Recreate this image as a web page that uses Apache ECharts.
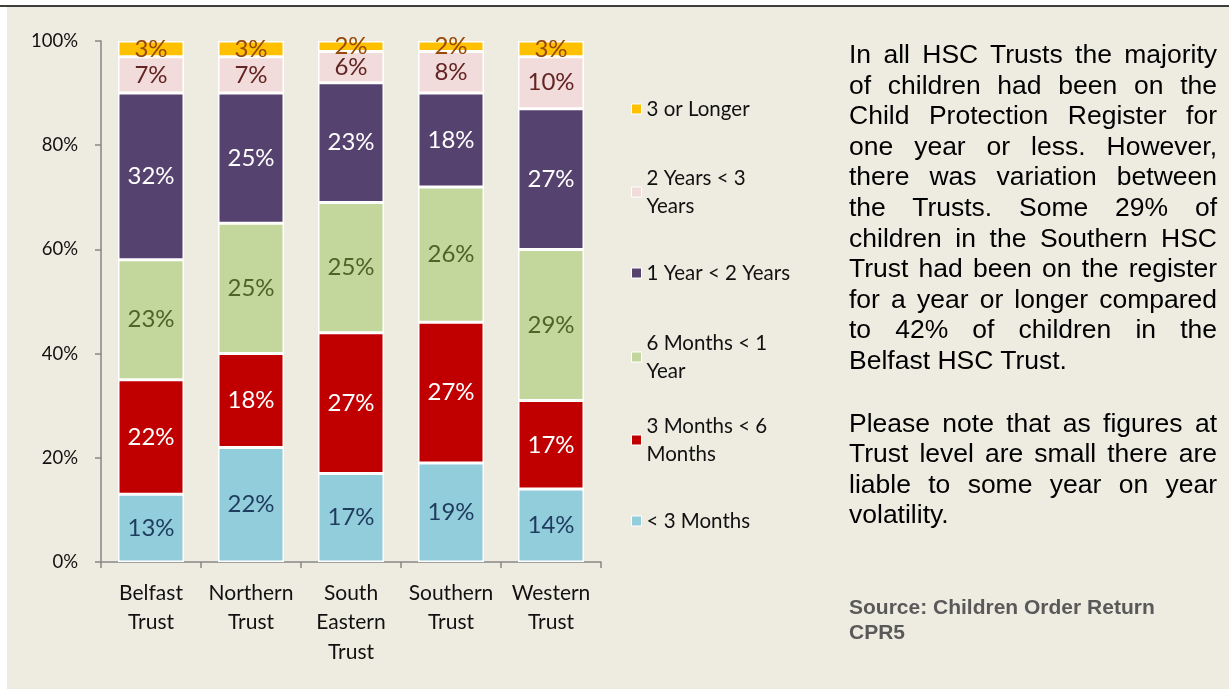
<!DOCTYPE html>
<html>
<head>
<meta charset="utf-8">
<script src="https://cdn.jsdelivr.net/npm/echarts@6/dist/echarts.min.js"></script>
<style>
  html, body { margin: 0; padding: 0; background: #fff; }
  #wrap { position: relative; width: 1229px; height: 689px; }
  #chart { width: 1229px; height: 689px; }
  .note {
    position: absolute; left: 849px; top: 39px; width: 368px;
    font-family: "Liberation Sans", Arial, sans-serif; font-size: 26.5px;
    line-height: 30.6px; color: #000; text-align: justify; pointer-events: none;
  }
  .note p { margin: 0 0 32px 0; }
  .source {
    position: absolute; left: 849px; top: 595px; width: 370px;
    font-family: "Liberation Sans", Arial, sans-serif; font-size: 21px; font-weight: bold;
    line-height: 24.5px; color: #595959; pointer-events: none;
  }
</style>
</head>
<body>
<div id="wrap">
  <div id="chart"></div>
  <div class="note">
    <p>In all HSC Trusts the majority of children had been on the Child Protection Register for one year or less. However, there was variation between the Trusts. Some 29% of children in the Southern HSC Trust had been on the register for a year or longer compared to 42% of children in the Belfast HSC Trust.</p>
    <p>Please note that as figures at Trust level are small there are liable to some year on year volatility.</p>
  </div>
  <div class="source">Source: Children Order Return<br>CPR5</div>
</div>
<script>
const trusts = ["Belfast\nTrust", "Northern\nTrust", "South\nEastern\nTrust", "Southern\nTrust", "Western\nTrust"];
const yTicks = [0, 20, 40, 60, 80, 100];

const under3Months = [13, 22, 17, 19, 14];
const months3to6 = [22, 18, 27, 27, 17];
const months6to1Year = [23, 25, 25, 26, 29];
const year1to2 = [32, 25, 23, 18, 27];
const years2to3 = [7, 7, 6, 8, 10];
const years3Plus = [3, 3, 2, 2, 3];

const seriesNames = ["< 3 Months", "3 Months < 6 Months", "6 Months < 1 Year", "1 Year < 2 Years", "2 Years < 3 Years", "3 or Longer"];
const legendLabels = ["< 3 Months", "3 Months < 6\nMonths", "6 Months < 1\nYear", "1 Year < 2 Years", "2 Years < 3\nYears", "3 or Longer"];

const colors = ["#92cddc", "#c00000", "#c3d69b", "#55426f", "#f2dcdb", "#ffc000"];
const labelColors = ["#1f3b5e", "#ffffff", "#4f6228", "#ffffff", "#632523", "#984807"];
const values = [under3Months, months3to6, months6to1Year, year1to2, years2to3, years3Plus];

const FONT = "Lato, 'Open Sans', sans-serif";
const chart = echarts.init(document.getElementById("chart"));

// legend centres (icon y)
const legendCentres = [521, 440, 357, 273, 192, 109];

const legends = seriesNames.map((name, i) => {
  const twoLines = legendLabels[i].indexOf("\n") >= 0;
  const h = twoLines ? 84 : 28;
  return {
    data: [name],
    left: 631,
    top: legendCentres[i] - h / 2,
    padding: 0,
    itemWidth: 10,
    itemHeight: 10,
    icon: "rect",
    selectedMode: false,
    itemStyle: { borderColor: "#fff", borderWidth: 1 },
    formatter: () => legendLabels[i],
    textStyle: {
      fontFamily: FONT, fontSize: 20.5, color: "#111",
      lineHeight: 28,
      padding: twoLines ? [28, 0, 0, 0] : 0
    }
  };
});

const option = {
  backgroundColor: "#eeece1",
  animation: false,
  grid: { left: 101, right: 628, top: 41, bottom: 127, containLabel: false },
  legend: legends,
  xAxis: {
    type: "category",
    data: trusts,
    axisLine: { lineStyle: { color: "#868686", width: 1.5 } },
    axisTick: { show: true, length: 6, lineStyle: { color: "#868686", width: 1.5 } },
    axisLabel: { color: "#111", fontFamily: FONT, fontSize: 21, lineHeight: 29.5, margin: 16, interval: 0 }
  },
  yAxis: {
    type: "value",
    min: yTicks[0],
    max: yTicks[yTicks.length - 1],
    interval: 20,
    splitLine: { show: false },
    axisLine: { show: true, lineStyle: { color: "#868686", width: 1.5 } },
    axisTick: { show: true, length: 6, lineStyle: { color: "#868686", width: 1.5 } },
    axisLabel: { color: "#111", fontFamily: FONT, fontSize: 18.5, margin: 23, formatter: "{value}%" }
  },
  graphic: [
    { type: "rect", shape: { x: 0, y: 0, width: 1229, height: 6 }, style: { fill: "#fff" }, silent: true },
    { type: "rect", shape: { x: 0, y: 0, width: 7, height: 689 }, style: { fill: "#fff" }, silent: true },
    { type: "line", shape: { x1: 0, y1: 6, x2: 1229, y2: 6 }, style: { stroke: "#000", lineWidth: 1.5 }, silent: true }
  ],
  series: seriesNames.map((name, i) => ({
    name: name,
    type: "bar",
    stack: "total",
    barWidth: 66,
    data: values[i],
    itemStyle: { color: colors[i], borderColor: "#fff", borderWidth: 1.5 },
    label: {
      show: true,
      position: "inside",
      formatter: "{c}%",
      color: labelColors[i],
      fontFamily: FONT,
      fontSize: 24
    }
  }))
};

chart.setOption(option);
window.addEventListener("resize", () => {
  chart.resize();
});
</script>
</body>
</html>
